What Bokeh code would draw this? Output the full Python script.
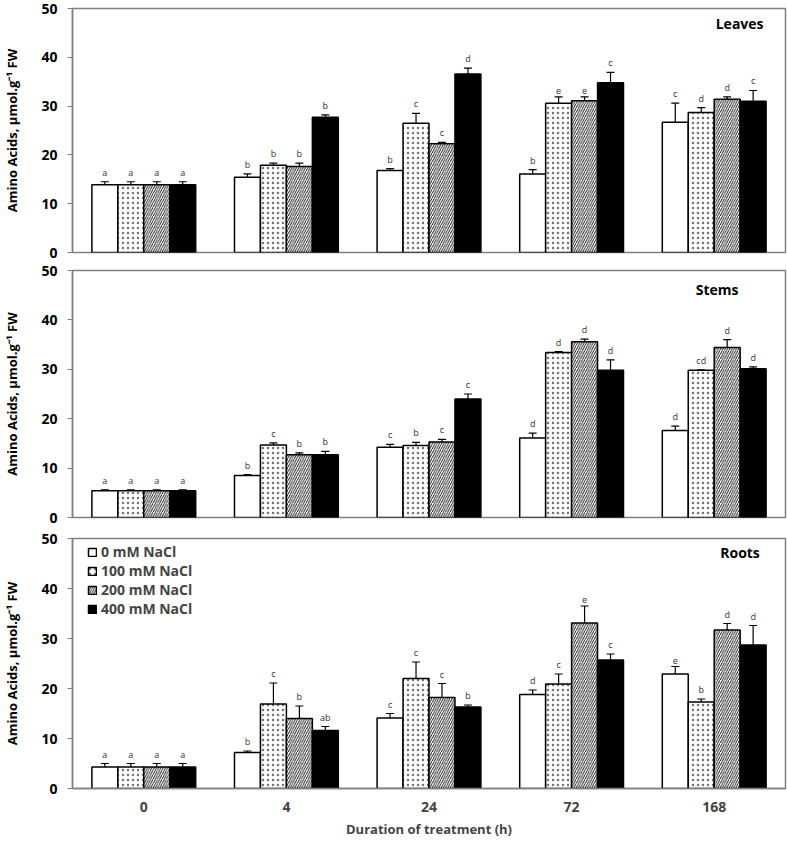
from bokeh.plotting import figure
from bokeh.models import Range1d, FactorRange, FixedTicker, Label, Legend, LegendItem, ColumnDataSource
from bokeh.layouts import column
from bokeh.embed import file_html
from bokeh.resources import INLINE
from bokeh.core.properties import value
from bokeh.transform import dodge

times = ["0", "4", "24", "72", "168"]
treatments = ["0 mM NaCl", "100 mM NaCl", "200 mM NaCl", "400 mM NaCl"]
y_ticks = [0, 10, 20, 30, 40, 50]

# rows = treatments, columns = times
leaves_mean = [[13.9, 15.4, 16.8, 16.1, 26.7],
               [13.9, 17.9, 26.5, 30.6, 28.7],
               [13.9, 17.6, 22.3, 31.1, 31.4],
               [13.9, 27.7, 36.6, 34.8, 31.0]]
leaves_err = [[0.6, 0.7, 0.4, 0.9, 3.9],
              [0.6, 0.4, 2.0, 1.3, 1.0],
              [0.6, 0.7, 0.25, 0.8, 0.5],
              [0.6, 0.5, 1.2, 2.1, 2.2]]
leaves_sig = [["a", "b", "b", "b", "c"],
              ["a", "b", "c", "e", "d"],
              ["a", "b", "c", "e", "d"],
              ["a", "b", "d", "c", "c"]]

stems_mean = [[5.4, 8.5, 14.2, 16.1, 17.6],
              [5.4, 14.7, 14.6, 33.4, 29.8],
              [5.4, 12.7, 15.3, 35.6, 34.4],
              [5.4, 12.7, 24.0, 29.8, 30.1]]
stems_err = [[0.2, 0.2, 0.6, 1.0, 0.9],
             [0.2, 0.4, 0.6, 0.2, 0.1],
             [0.2, 0.4, 0.5, 0.5, 1.6],
             [0.2, 0.7, 1.0, 2.1, 0.4]]
stems_sig = [["a", "b", "c", "d", "d"],
             ["a", "c", "b", "d", "cd"],
             ["a", "b", "c", "d", "d"],
             ["a", "b", "c", "d", "d"]]

roots_mean = [[4.3, 7.2, 14.1, 18.8, 22.9],
              [4.3, 16.9, 22.0, 20.9, 17.3],
              [4.3, 14.0, 18.2, 33.1, 31.7],
              [4.3, 11.6, 16.3, 25.7, 28.7]]
roots_err = [[0.7, 0.3, 0.9, 0.9, 1.5],
             [0.7, 4.2, 3.3, 2.0, 0.6],
             [0.7, 2.5, 2.8, 3.4, 1.3],
             [0.7, 0.8, 0.4, 1.2, 3.9]]
roots_sig = [["a", "b", "c", "d", "e"],
             ["a", "c", "c", "c", "b"],
             ["a", "b", "c", "e", "d"],
             ["a", "ab", "b", "c", "d"]]

FONT_NAME = "Open Sans"
FONT = value(FONT_NAME)
GRAY = "#808080"
BAR_W = 0.182
CAP = 0.028

styles = [
    dict(fill_color="white"),
    dict(fill_color="white", hatch_pattern="dot", hatch_color="black", hatch_scale=5,
         hatch_weight=0.5, hatch_alpha=0.55),
    dict(fill_color="white", hatch_pattern="right_diagonal_line", hatch_color="black", hatch_scale=4.5,
         hatch_weight=0.9),
    dict(fill_color="black"),
]


def make_panel(name, mean, err, sig, title_x, title_y, height, top, bottom, show_x, legend):
    p = figure(width=787, height=height, x_range=FactorRange(*times), y_range=Range1d(0, 50),
               output_backend="svg", toolbar_location=None,
               min_border_left=70, min_border_right=2, min_border_top=top, min_border_bottom=bottom,
               x_axis_location="below" if show_x else None)
    p.grid.grid_line_color = None
    p.outline_line_color = GRAY
    p.outline_line_width = 1.5
    p.background_fill_color = "white"

    ya = p.yaxis[0]
    ya.ticker = FixedTicker(ticks=y_ticks)
    ya.axis_label = "Amino Acids, \u00b5mol.g\u207b\u00b9 FW"
    ya.axis_label_text_font = FONT_NAME
    ya.axis_label_text_font_style = "bold"
    ya.axis_label_text_font_size = "13px"
    ya.axis_label_text_color = "black"
    ya.axis_label_standoff = 17
    ya.major_label_text_font = FONT_NAME
    ya.major_label_text_font_style = "bold"
    ya.major_label_text_font_size = "14px"
    ya.major_label_text_color = "black"
    ya.major_label_standoff = 10
    ya.major_tick_out = 5
    ya.major_tick_in = 0
    ya.minor_tick_line_color = None
    ya.axis_line_color = GRAY
    ya.axis_line_width = 1.5
    ya.major_tick_line_color = GRAY
    ya.major_tick_line_width = 1.2

    if show_x:
        xa = p.xaxis[0]
        xa.axis_label = "Duration of treatment (h)"
        xa.axis_label_text_font = FONT_NAME
        xa.axis_label_text_font_style = "bold"
        xa.axis_label_text_font_size = "13px"
        xa.axis_label_standoff = 5
        xa.major_label_text_font = FONT_NAME
        xa.major_label_text_font_style = "bold"
        xa.major_label_text_font_size = "14px"
        xa.major_label_standoff = 13
        xa.major_tick_out = 0
        xa.major_tick_in = 0
        xa.major_tick_line_color = None
        xa.minor_tick_line_color = None
        xa.axis_line_color = GRAY
        xa.axis_line_width = 1.5

    renderers = []
    n = len(treatments)
    for k in range(n):
        off = (k - (n - 1) / 2) * BAR_W
        tops = [m + e for m, e in zip(mean[k], err[k])]
        src = ColumnDataSource(dict(time=times, mean=mean[k], top=tops, sig=sig[k]))
        r = p.vbar(x=dodge("time", off, range=p.x_range), top="mean", bottom=0, width=BAR_W,
                   source=src, line_color="black", line_width=1.5, **styles[k])
        renderers.append(r)
        p.segment(x0=dodge("time", off, range=p.x_range), y0="mean",
                  x1=dodge("time", off, range=p.x_range), y1="top",
                  source=src, line_color="black", line_width=1.2)
        p.segment(x0=dodge("time", off - CAP, range=p.x_range), y0="top",
                  x1=dodge("time", off + CAP, range=p.x_range), y1="top",
                  source=src, line_color="black", line_width=1.2)
        p.text(x=dodge("time", off, range=p.x_range), y="top", text="sig", source=src,
               text_align="center", text_baseline="bottom", y_offset=-3,
               text_font=FONT, text_font_size="9px", text_color="#333333")

    p.add_layout(Label(x=title_x, y=title_y, text=name, text_align="right", text_baseline="middle",
                       text_font=FONT_NAME, text_font_style="bold", text_font_size="14px", text_color="black"))

    if legend:
        items = [LegendItem(label=t, renderers=[r]) for t, r in zip(treatments, renderers)]
        lg = Legend(items=items, location=(15, 170), orientation="vertical",
                    glyph_width=10, glyph_height=10, label_height=16, label_standoff=4,
                    spacing=0, padding=0, margin=0,
                    label_text_font=FONT_NAME, label_text_font_style="bold", label_text_font_size="14px",
                    border_line_color=None, background_fill_alpha=0)
        p.add_layout(lg)
    return p


p1 = make_panel("Leaves", leaves_mean, leaves_err, leaves_sig, 4.846, 47.0, 260, 8, 8, False, False)
p2 = make_panel("Stems", stems_mean, stems_err, stems_sig, 4.67, 46.2, 267, 10, 10, False, False)
p3 = make_panel("Roots", roots_mean, roots_err, roots_sig, 4.82, 47.2, 314, 11, 53, True, True)

layout = column(p1, p2, p3, spacing=0)
open("out.html", "w").write(file_html(layout, INLINE))
